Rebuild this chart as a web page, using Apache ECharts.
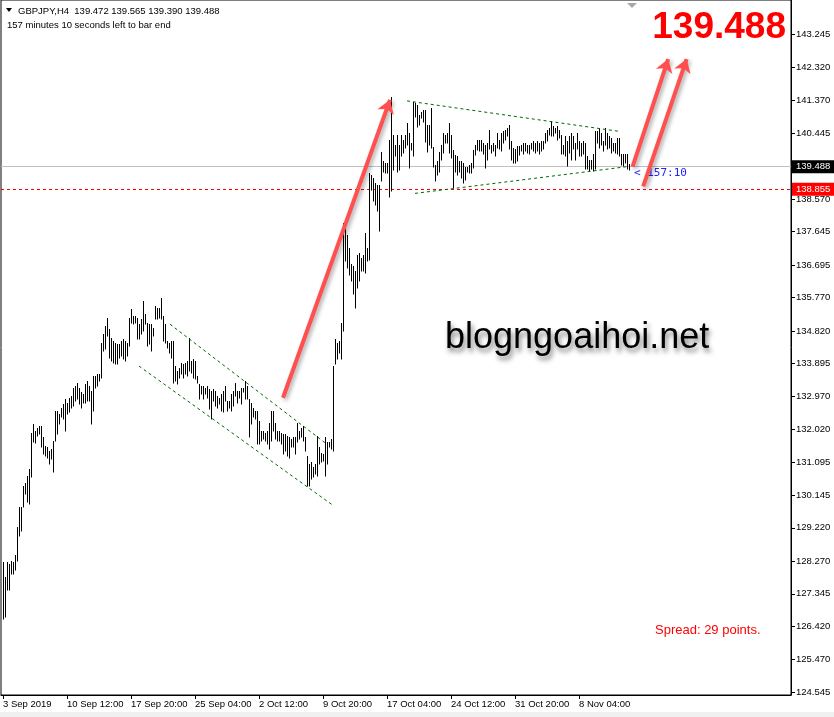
<!DOCTYPE html>
<html><head><meta charset="utf-8">
<script src="https://cdn.jsdelivr.net/npm/echarts@6/dist/echarts.min.js"></script>
<style>html,body{margin:0;padding:0;background:#fff;overflow:hidden}#c{width:834px;height:717px}</style>
</head><body><div id="c"></div>
<script>
// ---- data (GBPJPY H4, high/low per bar, oldest first) ----
const highs = [
128.25,127.82,128.25,128.20,128.29,128.25,128.44,129.24,129.80,129.80,
130.42,130.49,130.70,130.90,131.93,132.17,131.98,132.07,132.12,132.12,
131.79,131.55,131.51,131.41,131.46,131.70,132.55,132.55,132.45,132.64,
132.74,132.88,132.78,132.92,132.97,133.21,133.26,133.35,133.21,133.07,
133.02,133.30,133.40,133.26,133.11,133.54,133.54,133.59,133.59,134.48,
134.72,134.96,135.19,134.86,134.62,134.53,134.48,134.44,134.44,134.53,
134.58,134.53,134.48,135.19,135.43,135.24,135.24,135.19,135.01,135.15,
135.67,135.29,135.05,135.01,135.01,134.91,135.52,135.48,135.48,135.76,
135.24,135.01,134.53,134.48,134.53,134.53,133.82,133.68,133.77,133.92,
133.87,133.92,133.97,134.62,133.97,134.01,133.97,133.54,133.30,
133.26,133.26,133.21,133.26,133.16,133.11,133.16,133.11,132.97,132.92,
133.02,133.11,133.26,132.83,132.83,133.02,133.11,133.35,133.11,133.11,
133.21,133.21,133.40,133.26,132.88,132.78,132.64,132.55,132.55,132.26,
131.98,131.98,131.93,131.98,132.21,132.55,132.55,132.21,131.98,131.98,
131.93,131.88,131.88,131.84,131.79,131.74,131.79,131.79,132.21,131.98,
132.07,132.12,131.79,131.27,131.04,131.08,130.94,131.04,131.84,131.51,
131.36,131.32,131.79,131.65,131.65,131.74,133.82,134.58,134.48,134.53,
135.05,137.89,137.84,137.56,137.18,136.71,136.66,136.52,136.99,137.04,
136.89,136.99,137.60,137.18,139.30,139.26,139.16,139.02,138.97,138.97,
139.92,139.64,139.59,139.59,140.25,141.48,140.39,140.11,140.39,140.11,
140.39,140.25,140.39,140.72,140.44,140.15,141.34,141.29,141.24,140.96,
141.05,141.10,141.10,140.68,140.68,141.15,140.06,139.54,139.64,139.92,
140.11,140.44,140.39,140.44,140.72,140.39,139.95,139.82,139.78,139.64,
139.64,139.59,139.49,139.49,139.54,139.59,139.97,140.11,140.25,
140.26,140.26,140.17,140.12,140.17,140.54,140.12,140.17,140.12,140.45,
140.26,140.45,140.49,140.54,140.59,140.68,140.21,140.02,139.98,140.07,
140.07,140.12,140.17,140.17,140.12,140.12,140.17,140.21,140.17,140.21,
140.17,140.21,140.21,140.45,140.54,140.59,140.78,140.64,140.59,140.64,
140.54,140.40,140.12,140.35,140.21,140.35,140.45,140.35,140.17,140.45,
140.21,140.17,140.21,140.17,139.79,139.69,139.69,139.84,140.49,140.49,
140.59,140.45,140.21,140.59,140.45,140.35,140.31,140.17,140.17,140.31,
140.31,139.84,139.84,139.84,139.84,139.565
];
const lows = [
126.64,126.69,127.44,127.44,127.92,127.92,128.01,128.29,129.00,129.14,
129.80,130.19,129.95,129.90,130.66,131.65,131.62,131.84,131.88,131.51,
131.32,131.27,131.22,131.04,131.18,130.80,131.70,131.88,132.17,132.36,
132.31,131.98,132.45,132.50,132.64,132.69,132.83,132.88,132.74,132.64,
132.78,132.78,132.83,132.83,132.17,132.55,133.21,133.26,133.40,133.49,
134.25,134.30,134.67,134.06,133.97,133.92,133.87,133.87,134.06,134.11,
134.01,133.97,134.11,134.39,135.05,135.01,135.05,134.58,134.58,134.72,
134.82,135.01,134.39,134.44,134.25,134.67,135.15,135.15,135.19,135.15,
134.53,134.48,134.34,134.20,134.06,133.35,133.40,133.30,133.49,133.59,
133.49,133.59,133.54,133.68,133.63,133.49,133.45,133.35,132.88,
133.02,132.88,133.02,132.92,132.59,132.31,132.83,132.69,132.64,132.74,
132.55,132.50,132.83,132.55,132.64,132.55,132.69,132.97,132.78,132.92,
132.74,133.07,132.88,132.88,131.79,132.17,132.36,132.31,131.60,131.60,
131.70,131.74,131.70,131.60,131.46,131.70,131.98,131.74,131.70,131.70,
131.60,131.32,131.41,131.27,131.22,131.51,131.51,131.32,131.65,131.74,
131.79,131.70,131.41,130.42,130.42,130.61,130.66,130.75,130.70,131.04,
131.08,131.13,130.70,131.04,131.51,131.46,131.41,133.87,134.01,134.20,
134.01,134.82,136.80,136.61,136.42,136.23,135.86,135.48,136.04,136.23,
136.52,136.52,136.47,136.80,136.85,138.83,138.50,138.41,138.22,137.65,
139.07,139.35,139.30,139.30,138.64,138.79,139.40,139.78,139.35,139.40,
139.78,139.87,140.01,140.11,139.45,139.97,139.78,140.91,140.63,140.68,
140.86,140.77,140.20,139.92,140.11,140.01,139.49,139.07,139.26,139.35,
139.68,139.87,140.15,140.15,139.87,139.73,138.88,139.35,139.26,139.35,
139.16,139.02,139.12,139.35,139.30,139.30,139.45,139.82,139.97,
139.93,139.93,139.84,139.46,139.69,139.98,139.88,139.93,139.79,140.02,
139.98,139.93,140.17,140.26,140.35,139.98,139.69,139.60,139.60,139.64,
139.83,139.93,139.84,139.93,139.88,139.84,139.98,139.93,139.88,139.93,
139.84,139.93,139.98,140.17,140.21,140.40,140.35,140.35,140.45,140.26,
140.31,139.84,139.84,139.79,139.50,139.88,139.69,139.98,139.69,139.98,
139.79,139.79,139.84,139.41,139.41,139.36,139.41,139.36,139.41,140.17,
140.02,140.12,139.93,140.12,139.98,140.02,139.88,139.93,139.88,139.84,
139.79,139.55,139.50,139.60,139.41,139.39
];
const dateLabels = ['3 Sep 2019','10 Sep 12:00','17 Sep 20:00','25 Sep 04:00','2 Oct 12:00','9 Oct 20:00','17 Oct 04:00','24 Oct 12:00','31 Oct 20:00','8 Nov 04:00'];
const dateLabelBars = [0,32,64,96,128,160,192,224,256,288];
const priceTicks = [124.545,125.470,126.420,127.345,128.270,129.220,130.145,131.095,132.020,132.970,133.895,134.820,135.770,136.695,137.645,138.570,140.445,141.370,142.320,143.245];
const lastOHLC = [139.472, 139.565, 139.390, 139.488];
const bidPrice = 139.488;
const levelPrice = 138.855;
const spreadPoints = 29;
const timeLeft = '157:10';
// trend lines [barIndex, price]
const channelUpper = [[83.5,135.01],[161,131.64]];
const channelLower = [[68,133.82],[164.5,129.88]];
const triangleUpper = [[202,141.36],[308.5,140.49]];
const triangleLower = [[206,138.73],[312,139.49]];
// red arrows [from, to] in [barIndex, price]
const arrow1 = [[140,132.92],[193.5,141.39]];
const arrow2 = [[314.8,139.49],[332.6,142.55]];
const arrow3 = [[320.1,138.93],[341.8,142.55]];

const FONT = '"Liberation Sans", Arial, sans-serif';
const barData = highs.map((h, i) => [i, lows[i], h]);

const chart = echarts.init(document.getElementById('c'), null, {renderer: 'canvas'});
chart.setOption({
  animation: false,
  backgroundColor: '#fff',
  grid: {left: 1, top: -2, right: 43, bottom: 22, show: true, borderColor: '#000', borderWidth: 1, backgroundColor: 'transparent'},
  xAxis: {
    type: 'value', min: -1, max: 394,
    axisLine: {show: true, onZero: false, lineStyle: {color: '#000', width: 1}},
    axisTick: {show: true, length: 4, lineStyle: {color: '#000'}, customValues: dateLabelBars},
    axisLabel: {show: true, customValues: dateLabelBars, formatter: v => dateLabels[dateLabelBars.indexOf(Math.round(v))] || '',
      align: 'left', margin: 4, color: '#000', fontSize: 9.5, fontFamily: FONT},
    splitLine: {show: false}
  },
  yAxis: {
    type: 'value', position: 'right', min: 124.467, max: 144.229,
    axisLine: {show: true, onZero: false, lineStyle: {color: '#000', width: 1}},
    axisTick: {show: true, length: 4, inside: false, lineStyle: {color: '#000'}, customValues: priceTicks},
    axisLabel: {show: true, customValues: priceTicks, formatter: v => v.toFixed(3), margin: 5, color: '#000', fontSize: 9.5, fontFamily: FONT},
    splitLine: {show: false}
  },
  series: [
    {
      type: 'custom', name: 'GBPJPY', data: barData, encode: {x: 0, y: [1, 2]}, clip: true, z: 5,
      renderItem: function (params, api) {
        const i = api.value(0);
        const lo = api.coord([i, api.value(1)]);
        const hi = api.coord([i, api.value(2)]);
        const x = Math.round(lo[0]) + 0.5;
        return {type: 'line', shape: {x1: x, y1: Math.round(lo[1]) + 0.5, x2: x, y2: Math.round(hi[1])}, style: {stroke: '#000', lineWidth: 1}};
      },
      markLine: {
        silent: true, symbol: 'none', animation: false,
        data: [
          {yAxis: bidPrice, lineStyle: {color: '#c0c0c0', type: 'solid', width: 1},
           label: {show: true, position: 'end', distance: 1, formatter: () => bidPrice.toFixed(3), color: '#fff', backgroundColor: '#000', padding: [2, 4, 1, 4], fontSize: 9.5, fontFamily: FONT}},
          {yAxis: levelPrice, lineStyle: {color: '#ff0000', type: [3, 3], width: 1},
           label: {show: true, position: 'end', distance: 1, formatter: () => levelPrice.toFixed(3), color: '#fff', backgroundColor: '#ff0000', padding: [2, 4, 1, 4], fontSize: 9.5, fontFamily: FONT}}
        ]
      }
    },
    {
      type: 'lines', coordinateSystem: 'cartesian2d', z: 6, silent: true,
      symbol: 'none',
      lineStyle: {color: '#006800', width: 1, type: [3, 3], opacity: 1},
      data: [{coords: channelUpper}, {coords: channelLower}, {coords: triangleUpper}, {coords: triangleLower}]
    },
    {
      type: 'lines', coordinateSystem: 'cartesian2d', z: 7, silent: true,
      symbol: ['none', 'arrow'], symbolSize: 13,
      lineStyle: {color: '#ff4f4f', width: 4, opacity: 1, shadowBlur: 4, shadowColor: 'rgba(0,0,0,0.35)', shadowOffsetX: 2, shadowOffsetY: 2},
      data: [{coords: arrow1}, {coords: arrow2}, {coords: arrow3}]
    }
  ],
  graphic: [
    {type: 'rect', shape: {x: 0, y: 712, width: 834, height: 5}, style: {fill: '#f0f0f0'}, silent: true},
    {type: 'polygon', shape: {points: [[6, 8], [12, 8], [9, 12]]}, style: {fill: '#000'}},
    {type: 'text', style: {x: 18, y: 11, text: 'GBPJPY,H4  ' + lastOHLC.map(v => v.toFixed(3)).join(' '), fill: '#000', font: '9.5px ' + FONT, verticalAlign: 'middle'}},
    {type: 'text', style: {x: 7, y: 25, text: '157 minutes 10 seconds left to bar end', fill: '#000', font: '9.5px ' + FONT, verticalAlign: 'middle'}},
    {type: 'polygon', shape: {points: [[627, 3], [637, 3], [632, 8]]}, style: {fill: '#a8a8a8'}},
    {type: 'text', z: 10, style: {x: 786, y: 28, text: bidPrice.toFixed(3), fill: '#ff0000', font: 'bold 37px ' + FONT, align: 'right', verticalAlign: 'middle'}},
    {type: 'text', z: 10, style: {x: 445, y: 338, text: 'blogngoaihoi.net', fill: '#000', font: '36px ' + FONT, verticalAlign: 'middle',
      shadowBlur: 5, shadowColor: 'rgba(0,0,0,0.5)', shadowOffsetX: 2, shadowOffsetY: 4,
      textShadowBlur: 5, textShadowColor: 'rgba(0,0,0,0.5)', textShadowOffsetX: 2, textShadowOffsetY: 4}},
    {type: 'text', style: {x: 634, y: 173, text: '< ' + timeLeft, fill: '#2020ff', font: '11px "DejaVu Sans Mono", monospace', verticalAlign: 'middle'}},
    {type: 'text', style: {x: 655, y: 630, text: 'Spread: ' + spreadPoints + ' points.', fill: '#ff0000', font: '13px ' + FONT, verticalAlign: 'middle'}}
  ]
});
</script></body></html>
